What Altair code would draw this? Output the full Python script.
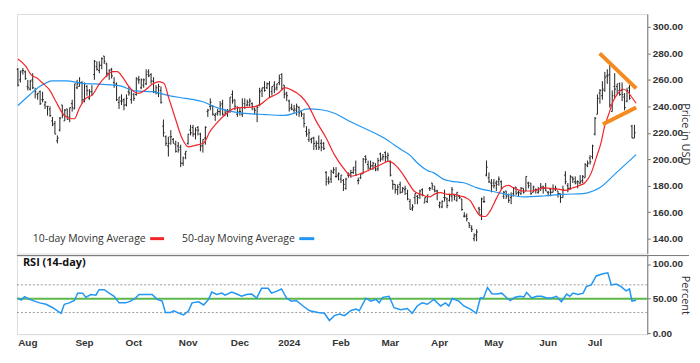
import altair as alt
import pandas as pd

# ---------------- data ----------------
opens = [268, 260, 267,
         266, 255, 253, 260, 252, 249, 251, 245, 241, 240, 238, 229, 227, 214, 222, 241, 229, 238, 232, 242, 238, 254, 255,
         258, 245, 255, 246, 251, 264, 270, 267, 271, 278, 272, 264, 268, 258, 257, 243, 244, 245, 241, 251,
         245, 249, 249, 260, 254, 256, 257, 266, 264, 259, 251, 250, 252, 225, 217, 210, 217, 215, 211, 210, 209, 197,
         204, 212, 222, 224, 219, 224, 219, 210, 216, 236, 240, 240, 233, 235, 236, 242, 233, 236, 237, 249, 245,
         234, 236, 234, 242, 241, 241, 242, 238, 234, 241, 252, 254, 254, 257, 251, 256, 254, 258, 264, 256,
         250, 244, 239, 237, 237, 239, 236, 231, 221, 215, 215, 216, 210, 212, 212, 212, 190, 185, 185, 190, 187,
         188, 185, 184, 178, 188, 189, 190, 192, 184, 186, 189, 202, 196, 193, 195, 195, 193, 204, 201, 205,
         201, 198, 184, 181, 177, 181, 175, 177, 174, 168, 163, 171, 172, 173, 177, 167, 168, 178, 182, 177,
         176, 165, 164, 171, 170, 169, 172, 173, 169, 172, 170, 157, 157, 152, 148, 140, 143, 163, 158, 168, 188, 186,
         182, 182, 182, 183, 183, 172, 176, 173, 171, 174, 179, 175, 174, 178, 176, 182, 182, 175, 177, 175, 178, 179,
         178, 175, 177, 175, 177, 176, 174, 171, 188, 180, 178, 186, 183, 183, 182, 184, 186, 195, 201,
         202, 219, 234, 250, 248, 252, 263, 264, 236, 255, 255, 252, 252, 247, 244, 254, 225, 216]

highs = [269, 267, 269,
         267, 260, 260, 265, 254, 250, 252, 251, 244, 240, 240, 232, 229, 218, 232, 241, 238, 238, 239, 245, 257, 260, 262,
         259, 258, 256, 253, 256, 275, 274, 274, 277, 278, 273, 268, 269, 262, 258, 247, 249, 246, 249, 255,
         252, 250, 262, 263, 261, 261, 268, 268, 265, 262, 256, 257, 255, 230, 218, 217, 222, 216, 214, 213, 211, 202,
         206, 219, 226, 226, 224, 225, 220, 215, 225, 238, 246, 241, 235, 238, 244, 245, 238, 238, 247, 252, 245,
         240, 239, 246, 246, 245, 246, 243, 239, 241, 254, 254, 259, 258, 259, 255, 259, 257, 264, 265, 256,
         251, 245, 242, 241, 242, 240, 236, 235, 225, 223, 216, 217, 214, 218, 215, 213, 191, 187, 192, 194, 194,
         190, 188, 185, 186, 190, 192, 194, 199, 186, 189, 201, 203, 199, 199, 198, 197, 201, 205, 204, 206,
         205, 199, 184, 181, 181, 183, 179, 180, 177, 170, 166, 174, 173, 177, 178, 171, 173, 179, 182, 180,
         177, 168, 169, 177, 171, 174, 179, 173, 175, 173, 170, 160, 159, 152, 150, 144, 147, 164, 171, 172, 199, 190,
         185, 185, 184, 187, 184, 176, 176, 174, 175, 179, 179, 176, 179, 178, 187, 183, 182, 180, 178, 179, 182, 180,
         182, 176, 178, 181, 180, 176, 174, 180, 191, 182, 188, 187, 187, 184, 188, 188, 197, 199, 203,
         211, 232, 249, 253, 259, 266, 268, 272, 252, 265, 257, 258, 258, 250, 254, 256, 226, 226]

lows = [255, 258, 264,
        260, 252, 252, 253, 246, 245, 241, 243, 238, 233, 232, 225, 219, 212, 221, 231, 229, 230, 228, 236, 238, 253, 255,
        242, 243, 248, 245, 248, 260, 267, 265, 268, 272, 262, 260, 261, 254, 244, 238, 241, 237, 240, 248,
        242, 244, 248, 257, 253, 254, 256, 262, 257, 250, 249, 247, 242, 217, 210, 202, 211, 212, 205, 205, 194, 195,
        200, 211, 218, 217, 215, 218, 206, 205, 211, 232, 237, 233, 229, 233, 233, 233, 233, 232, 235, 242, 237,
        232, 233, 232, 238, 240, 240, 237, 234, 228, 240, 247, 251, 253, 247, 248, 250, 252, 256, 252, 246,
        244, 236, 237, 235, 233, 232, 232, 224, 217, 213, 212, 207, 207, 207, 206, 207, 180, 181, 182, 189, 186,
        184, 182, 176, 177, 186, 186, 189, 188, 181, 185, 189, 197, 192, 192, 192, 191, 191, 198, 199, 198,
        198, 187, 177, 174, 173, 174, 175, 173, 169, 162, 161, 166, 166, 170, 172, 167, 167, 176, 177, 175,
        169, 163, 163, 168, 163, 168, 168, 169, 168, 170, 161, 156, 153, 148, 145, 138, 138, 158, 154, 167, 187, 182,
        175, 178, 176, 180, 177, 170, 170, 167, 166, 172, 173, 172, 173, 174, 176, 178, 173, 175, 174, 174, 176, 174,
        176, 172, 172, 175, 176, 171, 167, 171, 181, 175, 177, 182, 181, 178, 181, 182, 186, 194, 196,
        200, 218, 234, 242, 245, 251, 257, 239, 236, 246, 249, 248, 244, 237, 243, 245, 216, 216]

closes = [256, 266, 267,
          261, 254, 259, 254, 251, 250, 242, 245, 243, 240, 233, 226, 219, 216, 231, 233, 237, 230, 239, 239, 257, 257, 258,
          245, 257, 252, 251, 249, 274, 268, 271, 276, 274, 265, 267, 263, 256, 245, 247, 244, 241, 246, 250,
          252, 246, 261, 260, 260, 260, 264, 263, 259, 251, 254, 255, 243, 220, 212, 212, 217, 212, 206, 207, 197, 201,
          206, 219, 220, 219, 222, 222, 210, 215, 224, 237, 243, 234, 234, 236, 241, 234, 235, 236, 247, 244, 240,
          239, 236, 239, 239, 243, 244, 240, 237, 239, 251, 254, 252, 257, 247, 255, 253, 257, 261, 253, 249,
          248, 238, 238, 238, 240, 235, 234, 227, 219, 220, 216, 212, 212, 209, 209, 208, 183, 183, 191, 192, 187,
          189, 188, 181, 185, 188, 190, 194, 188, 184, 189, 200, 200, 194, 195, 197, 192, 199, 200, 202, 202,
          203, 188, 181, 177, 179, 175, 178, 178, 170, 162, 164, 174, 171, 176, 173, 171, 173, 178, 180, 176,
          175, 167, 168, 171, 165, 173, 177, 172, 175, 171, 162, 157, 155, 150, 147, 142, 145, 162, 170, 168, 194, 183,
          180, 180, 181, 185, 178, 175, 172, 169, 172, 178, 174, 175, 178, 175, 187, 180, 174, 179, 177, 176, 179, 178,
          176, 175, 175, 178, 178, 174, 171, 177, 183, 178, 187, 185, 182, 183, 183, 187, 196, 197, 198,
          210, 231, 246, 252, 253, 262, 263, 241, 248, 253, 257, 249, 249, 239, 252, 246, 216, 220]

# 10-day moving average, read at (trading-day index, value)
ma10_idx = [0, 3.3, 5.4, 7.4, 10.1, 12.8, 15.4, 18.1, 20.8, 22.9, 24.9, 27.5, 30.2, 32.9, 35.6, 38.3, 40.3,
            42.3, 45, 47, 49, 51.7, 54.4, 57.1, 59.2, 61.2, 63.8, 66.5, 69.2, 71.9, 75.3, 77.9, 80.6, 84, 88,
            92.1, 96.1, 98.1, 101.5, 105.5, 108.2, 110.9, 114.9, 117.6, 121, 125, 128.3, 132.4, 135.1, 139.8,
            143.1, 147.2, 150.5, 151.9, 155.2, 157.9, 160.6, 163.3, 166.7, 169.4, 171.4, 174.1, 176.7, 179.4,
            181.5, 183.5, 185.5, 187.5, 189.5, 191.5, 194.2, 196.9, 198.9, 200.9, 205, 209, 213, 215.7, 219.8,
            221.8, 225.1, 227.5, 229.8, 232.5, 234.5, 236.6, 237.9, 239.5, 241.3, 243.3, 245.3, 247.3, 248.7, 250.7]
ma10_val = [275.7, 270, 263.7, 261.7, 257.4, 252.4, 243.6, 234.8, 231, 230.6, 238.6, 246, 248.6, 256.6, 262.4,
            266.2, 266.2, 262.4, 254.9, 251.1, 249.8, 252.4, 256.6, 258.6, 257.4, 246, 231, 216, 209.3, 210.5,
            212.3, 221, 227.3, 233.6, 238.6, 239.1, 239.8, 241.1, 246, 249.8, 254.1, 252.4, 247.4, 241.1, 228.6,
            216, 203.5, 192.3, 187.2, 189.7, 192.3, 196, 198.5, 197.3, 191, 183.5, 176, 173.5, 171.5, 174,
            174.7, 173.5, 173.5, 172.2, 171, 168.5, 162.2, 157.2, 156.7, 161, 171, 179, 180.2, 178.4, 176, 176,
            178.4, 178, 177.2, 176.4, 178.4, 180, 182, 189.7, 201, 213.5, 224.8, 233.6, 243.6, 249.8, 252.9,
            251.1, 247.4, 242.3]

# 50-day moving average, read at (trading-day index, value)
ma50_idx = [0, 4.7, 8.8, 14.1, 19.5, 26.2, 34.3, 41, 47.7, 54.4, 61.2, 67.9, 74.6, 81.3, 88, 94.8, 101.5,
            108.2, 112.2, 117.6, 123, 128.3, 135.1, 141.8, 148.5, 152.5, 155.2, 159.3, 161.9, 166, 168.7, 172.7,
            175.4, 180.8, 186.2, 191.5, 198.3, 205, 213, 221.1, 229.2, 233.2, 235.9, 242.6, 250.7]
ma50_val = [240.6, 248.6, 254.9, 259.2, 259.2, 257.4, 256.6, 255.6, 251.6, 251.1, 248.1, 246, 243.6, 238.6,
            235.6, 234.3, 233.6, 233.1, 234.8, 238.1, 237.4, 234.8, 228.1, 222.3, 216, 211, 207.5, 202.5, 197.3,
            191.5, 189.7, 184.8, 183.5, 182.2, 178.4, 176, 173.5, 171.5, 172.2, 173.5, 174, 176, 178.4, 189.7,
            203.5]

# RSI (14-day), read at (trading-day index, value)
rsi_idx = [0, 1.3, 2.7, 4.7, 6.7, 8.8, 11.4, 14.1, 17.5, 18.8, 20.8, 22.9, 24.2, 26.2, 27.5, 29.6, 31.6,
           32.9, 35, 37, 39, 41, 43.7, 45.7, 47.7, 49.1, 51.7, 54.4, 56.5, 58.5, 59.8, 61.8, 63.2, 65.2, 67.2,
           69.2, 70.6, 73.3, 75.3, 77.3, 78.6, 80.6, 82.7, 84, 86.7, 88.7, 90.7, 92.7, 94.8, 96.8, 98.8, 101.5,
           102.8, 104.8, 106.9, 108.9, 110.9, 112.9, 115.6, 118.3, 121.7, 124.3, 126.3, 128.3, 130.4, 132.4,
           135.1, 137.1, 138.4, 141.1, 143.1, 145.2, 146.5, 147.9, 150.5, 152.5, 155.2, 157.9, 159.9, 161.9,
           163.9, 166, 168.7, 171.4, 173.4, 174.7, 176.1, 178.8, 180.8, 183.5, 185.9, 187.5, 188.8, 190.4,
           192.2, 194.2, 196.2, 198.3, 199.6, 201.6, 203.6, 205.2, 206.3, 208.3, 210.4, 212.4, 214.4, 216.4,
           218.4, 220.4, 222.5, 223.8, 225.1, 227.1, 229.2, 230.5, 232.5, 234.5, 237.2, 239.2, 240.6, 242.6,
           244.6, 246.6, 248, 249, 250.7]
rsi_val = [51, 48, 53, 49, 46.5, 44, 42, 37, 29, 42, 44, 47.4, 58, 58, 52, 56, 55, 63, 63, 58, 53.5, 44, 44,
           46.5, 51, 56, 56, 56, 49, 46.5, 30, 30, 32.6, 29.3, 26.5, 32.6, 44, 45.6, 41, 49, 59.5, 56, 58, 55,
           59.5, 56.7, 53.5, 56, 56.7, 51, 65, 65, 58, 60.5, 64, 51, 46.5, 47.4, 39.5, 32.6, 30, 29, 18.6, 25.6,
           28, 25.6, 33, 35, 32.6, 50.7, 46.5, 49, 44, 52, 53.5, 37, 34, 35.8, 29, 39.5, 44, 42, 49, 39.5, 44,
           39.5, 50.2, 46.5, 39.5, 35, 29, 51, 51, 66, 57.2, 56.7, 58, 51, 47.4, 52, 53.5, 52.6, 59, 51, 53.5,
           53.5, 51, 51, 53.5, 45.6, 56.7, 53.5, 58, 56, 58, 67.4, 69.8, 82.8, 86, 87.4, 69.8, 71, 67.4, 61.4,
           64, 46.5, 47.9]

# hand-drawn orange triangle (trading-day index, price)
tri_group = ["upper", "upper", "lower", "lower"]
tri_idx = [235.9, 250.7, 237.2, 250.7]
tri_val = [280, 253.6, 226.5, 239.1]

price_ticks = [140, 160, 180, 200, 220, 240, 260, 280, 300]
rsi_ticks = [0, 50, 100]
rsi_levels = [30, 70]
rsi_mid = [50]

holidays = ["2023-09-04", "2023-11-23", "2023-12-25", "2024-01-01", "2024-01-15",
            "2024-02-19", "2024-03-29", "2024-05-27", "2024-06-19", "2024-07-04"]

# ---------------- build tables ----------------
dates = [d for d in pd.bdate_range("2023-07-27", "2024-07-25") if d.strftime("%Y-%m-%d") not in holidays]
n = len(closes)
dates = dates[:n]
bars = pd.DataFrame({"i": list(range(n)), "open": opens, "high": highs, "low": lows, "close": closes})
ma10 = pd.DataFrame({"i": ma10_idx, "v": ma10_val})
ma50 = pd.DataFrame({"i": ma50_idx, "v": ma50_val})
rsi = pd.DataFrame({"i": rsi_idx, "v": rsi_val})
tri = pd.DataFrame({"g": tri_group, "i": tri_idx, "v": tri_val})

tick_idx, tick_lab = [], []
prev = (dates[0].year, dates[0].month)
for k, d in enumerate(dates):
    key = (d.year, d.month)
    if key != prev:
        tick_idx.append(k)
        tick_lab.append(str(d.year) if d.month == 1 else d.strftime("%b"))
        prev = key
label_expr = "".join(f"datum.value == {k} ? '{l}' : " for k, l in zip(tick_idx, tick_lab)) + "''"

W = 634
xscale = alt.Scale(domain=[-0.4, 255.2], nice=False, zero=False)
pscale = alt.Scale(domain=[128.7, 309.8], nice=False, zero=False)
rscale = alt.Scale(domain=[-1, 112.2], nice=False, zero=False)

RED = "#f2262a"
BLUE = "#2196f3"
DARK = "#222222"
AX = dict(orient="right", grid=False, format=".2f", domainColor="#777777", tickColor="#777777",
          tickSize=3, labelPadding=2, labelFont="Liberation Sans", labelFontWeight="bold",
          labelFontSize=10, labelColor="#333333", labelOverlap=False, labelFlush=False,
          titleFont="Open Sans", titleFontSize=11, titleFontWeight="normal", titleColor="#333333",
          titlePadding=-3)
PAXIS = alt.Axis(values=price_ticks, title="Price in USD", **AX)
RAXIS = alt.Axis(values=rsi_ticks, title="Percent", **AX)
XAXIS = alt.Axis(values=tick_idx, labelExpr=label_expr, grid=False, ticks=False, title=None,
                 domainColor="#dddddd", labelFont="Liberation Sans", labelFontWeight="bold",
                 labelFontSize=10, labelColor="#333333", labelPadding=3, labelOffset=2,
                 labelOverlap=False, labelFlush=False)

X = alt.X("i:Q", scale=xscale, axis=None)

hl = alt.Chart(bars).mark_rule(color=DARK, strokeWidth=1).encode(
    x=X, y=alt.Y("low:Q", scale=pscale, axis=PAXIS), y2="high:Q")
otick = alt.Chart(bars).mark_rule(color=DARK, strokeWidth=1).transform_calculate(
    xo="datum.i - 0.5").encode(x=alt.X("xo:Q", scale=xscale, axis=None), x2="i:Q",
                                 y=alt.Y("open:Q", scale=pscale, axis=PAXIS))
ctick = alt.Chart(bars).mark_rule(color=DARK, strokeWidth=1).transform_calculate(
    xc="datum.i + 0.5").encode(x=alt.X("i:Q", scale=xscale, axis=None), x2="xc:Q",
                                 y=alt.Y("close:Q", scale=pscale, axis=PAXIS))
l10 = alt.Chart(ma10).mark_line(color=RED, strokeWidth=1.2, interpolate="monotone").encode(
    x=X, y=alt.Y("v:Q", scale=pscale, axis=PAXIS))
l50 = alt.Chart(ma50).mark_line(color=BLUE, strokeWidth=1.2, interpolate="monotone").encode(
    x=X, y=alt.Y("v:Q", scale=pscale, axis=PAXIS))
tri_l = alt.Chart(tri).mark_line(color="#f58a1f", strokeWidth=4).encode(
    x=X, y=alt.Y("v:Q", scale=pscale, axis=PAXIS), detail="g:N")

one = pd.DataFrame({"a": [0]})
leg_txt = alt.Chart(pd.DataFrame({"t": ["10-day Moving Average", "50-day Moving Average"],
                                  "px": [16, 166]})).mark_text(
    align="left", baseline="middle", font="Open Sans", fontSize=10.5, color="#333333").encode(
    x=alt.X("px:Q", scale=None), y=alt.value(226), text="t:N")
sw_red = alt.Chart(one).mark_rule(color=RED, strokeWidth=3).encode(
    x=alt.value(134), x2=alt.value(148), y=alt.value(226))
sw_blue = alt.Chart(one).mark_rule(color=BLUE, strokeWidth=3).encode(
    x=alt.value(284), x2=alt.value(299), y=alt.value(226))

top = alt.layer(hl, otick, ctick, l50, l10, tri_l, leg_txt, sw_red, sw_blue).properties(width=W, height=241)

# ---------------- RSI panel ----------------
dots = alt.Chart(pd.DataFrame({"v": rsi_levels})).mark_rule(
    color="#999999", strokeWidth=1, strokeDash=[2, 2]).encode(y=alt.Y("v:Q", scale=rscale, axis=RAXIS))
mid = alt.Chart(pd.DataFrame({"v": rsi_mid})).mark_rule(color="#5cb84a", strokeWidth=2).encode(
    y=alt.Y("v:Q", scale=rscale, axis=RAXIS))
rline = alt.Chart(rsi).mark_line(color=BLUE, strokeWidth=1.5).encode(
    x=alt.X("i:Q", scale=xscale, axis=XAXIS),
    y=alt.Y("v:Q", scale=rscale, axis=RAXIS))
sep = alt.Chart(one).mark_rule(color="#777777", strokeWidth=1).encode(
    x=alt.value(0), x2=alt.value(676), y=alt.value(0))
rsi_title = alt.Chart(pd.DataFrame({"t": ["RSI (14-day)"]})).mark_text(
    align="left", baseline="middle", font="Open Sans", fontSize=11, fontWeight="bold", color="#111111").encode(
    x=alt.value(6), y=alt.value(8), text="t:N")

bottom = alt.layer(dots, mid, rline, sep, rsi_title).properties(width=W, height=79)

chart = alt.vconcat(top, bottom, spacing=0).properties(
    padding={"left": 6, "top": 4, "right": 0, "bottom": 0}
).configure_view(stroke=None).configure_axis(labelOverlap=False).configure(background="white")

chart.save("out.html", embed_options={"renderer": "svg", "actions": False})
